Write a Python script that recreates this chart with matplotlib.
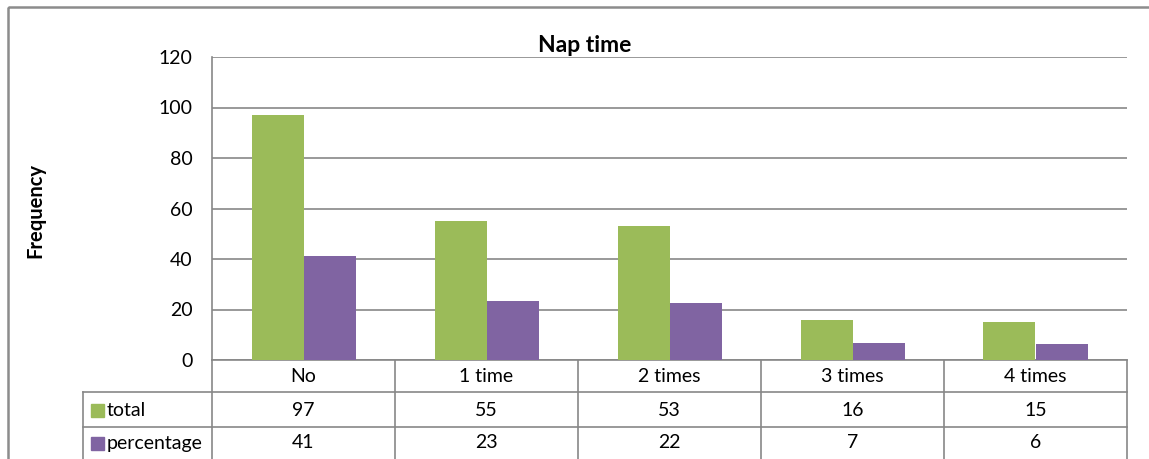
import matplotlib
matplotlib.use("Agg")
import matplotlib.pyplot as plt
from matplotlib.transforms import blended_transform_factory
from matplotlib.patches import Rectangle
import numpy as np

categories = ["No", "1 time", "2 times", "3 times", "4 times"]
total = [97, 55, 53, 16, 15]
percentage = [41.1, 23.3, 22.5, 6.8, 6.4]
series_names = ["total", "percentage"]
yticks = [0, 20, 40, 60, 80, 100, 120]

GREEN = "#9BBB59"
PURPLE = "#8064A2"
GRID = "#878787"
FONT = "Lato"
FS = 14

W, H = 1149, 459
fig = plt.figure(figsize=(W / 100, H / 100), dpi=100)

# overlay in pixel coordinates
ov = fig.add_axes([0, 0, 1, 1])
ov.set_xlim(0, W)
ov.set_ylim(H, 0)
ov.axis("off")

# chart outer border
ov.add_patch(Rectangle((8, 7), W + 20, H + 20, fill=False, edgecolor="#8c8c8c", lw=1.8))

L, T, R, B = 212, 57, 1127, 360
ax = fig.add_axes([L / W, (H - B) / H, (R - L) / W, (B - T) / H])
x = np.arange(len(categories))
bw = 52 / 183
ax.bar(x - bw / 2, total, bw, color=GREEN, zorder=3)
ax.bar(x + bw / 2, percentage, bw, color=PURPLE, zorder=3)
ax.set_xlim(-0.5, len(categories) - 0.5)
ax.set_ylim(0, 120)
ax.set_yticks(yticks)
ax.set_yticklabels([str(v) for v in yticks], fontsize=FS, family=FONT)
ax.tick_params(axis="y", length=0, pad=14)
ax.set_xticks([])
ax.grid(axis="y", color=GRID, lw=1.2, zorder=0)
for s in ax.spines.values():
    s.set_color(GRID)
    s.set_linewidth(1.2)
ax.spines["top"].set_visible(False)
ax.spines["right"].set_visible(False)

ov.text(585, 45, "Nap time", ha="center", va="center", fontsize=16.5,
        fontweight="bold", family=FONT)
ov.text(35, 210, "Frequency", rotation=90, ha="center", va="center",
        fontsize=14.5, fontweight="bold", family=FONT)

# data table
tr = blended_transform_factory(ax.transData, ov.transData)
bounds = [i - 0.5 for i in range(len(categories) + 1)]
for bx in bounds:
    ov.plot([bx, bx], [B, H + 5], transform=tr, color=GRID, lw=1.2, clip_on=False)
ov.plot([83, 83], [392, H + 5], color=GRID, lw=1.2)
for yy in (392, 427):
    ov.plot([83, R], [yy, yy], color=GRID, lw=1.2)

rows_y = [376, 410, 443]
for i, c in enumerate(categories):
    ov.text(i, rows_y[0], c, transform=tr, ha="center", va="center", fontsize=FS, family=FONT)
    ov.text(i, rows_y[1], f"{round(total[i])}", transform=tr, ha="center", va="center",
            fontsize=FS, family=FONT)
    ov.text(i, rows_y[2], f"{round(percentage[i])}", transform=tr, ha="center", va="center",
            fontsize=FS, family=FONT)

for name, col, yy in zip(series_names, [GREEN, PURPLE], rows_y[1:]):
    ov.add_patch(Rectangle((91, yy - 6), 13, 13, color=col))
    ov.text(107, yy, name, ha="left", va="center", fontsize=FS, family=FONT)

fig.savefig("out.png", dpi=100)
